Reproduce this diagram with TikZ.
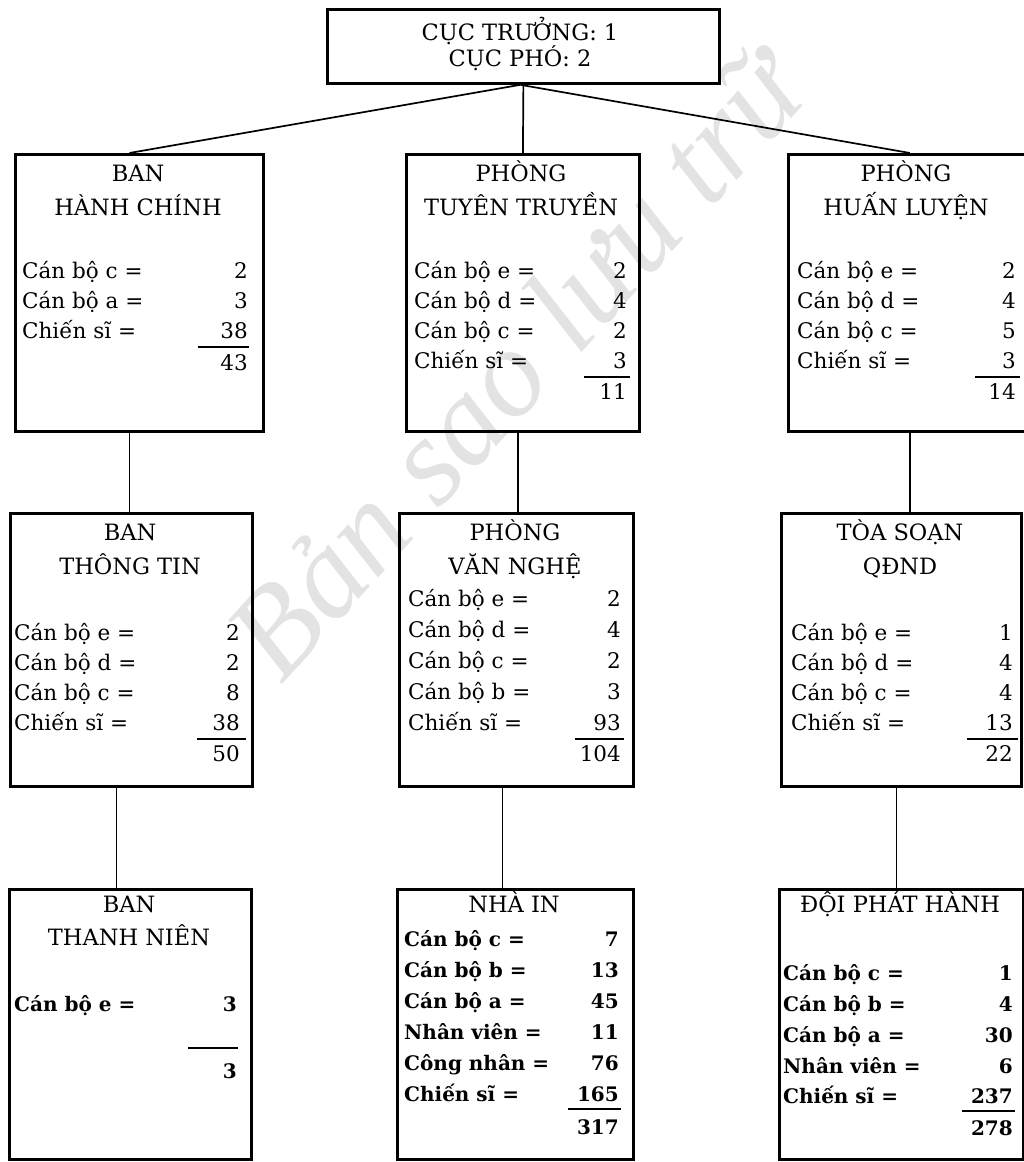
\documentclass[tikz,border=0pt]{standalone}
\usepackage{fontspec}
\setmainfont{DejaVu Serif}
\newfontfamily\wmfam{Liberation Serif}
\newcommand\hdfont{\fontsize{22.5}{26}\selectfont}
\newcommand\rwfont{\fontsize{21.5}{24}\selectfont}
\newcommand\rbfont{\fontsize{20}{24}\selectfont\bfseries}
\newcommand\orgrow[7]{\node[#7,anchor=base west] (#1l) at (#2,#4) {#5};\node[#7,anchor=base east] (#1v) at (#3,#4) {#6};}
\tikzset{
  box/.style={draw, line width=2.8pt, rectangle, anchor=north west, inner sep=0pt},
  hd/.style={font=\hdfont, anchor=base, inner sep=0pt},
  rw/.style={font=\rwfont, inner sep=0pt},
  rb/.style={font=\rbfont, inner sep=0pt},
  conn/.style={line width=1.7pt},
  sumrule/.style={line width=1.9pt}
}
\begin{document}
\begin{tikzpicture}[x=1pt,y=-1pt]
\useasboundingbox (0,0) rectangle (1024,1162);
\clip (0,0) rectangle (1024,1162);
\fill[white] (0,0) rectangle (1024,1162);
% watermark
\node[rotate=48, text=black!11, font=\wmfam\itshape\fontsize{126}{130}\selectfont, inner sep=0pt] (wm) at (515,362) {Bản sao lưu trữ};
% boxes
\node[box, minimum width=392pt, minimum height=74pt] (top) at (326,8) {};
\node[box, minimum width=248pt, minimum height=277pt] (A) at (14,153) {};
\node[box, minimum width=233pt, minimum height=277pt] (B) at (405,153) {};
\node[box, minimum width=243pt, minimum height=277pt] (C) at (787,153) {};
\node[box, minimum width=242pt, minimum height=273pt] (D) at (9,512) {};
\node[box, minimum width=234pt, minimum height=273pt] (E) at (398,512) {};
\node[box, minimum width=240pt, minimum height=273pt] (F) at (780,512) {};
\node[box, minimum width=242pt, minimum height=270pt] (G) at (8,888) {};
\node[box, minimum width=236pt, minimum height=270pt] (H) at (396,888) {};
\node[box, minimum width=244pt, minimum height=270pt] (I) at (778,888) {};
% connectors
\draw[conn] ([xshift=-3pt]top.south) -- ([xshift=-10pt]A.north);
\draw[conn] (top.south) -- (B.north);
\draw[conn] ([xshift=-3pt]top.south) -- (C.north);
\draw[conn] ([xshift=-10pt]A.south) -- ([xshift=-10pt]A.south |- D.north);
\draw[conn] ([xshift=-5pt]B.south) -- ([xshift=-5pt]B.south |- E.north);
\draw[conn] (C.south) -- (C.south |- F.north);
\draw[conn] ([xshift=-15pt]D.south) -- ([xshift=-15pt]D.south |- G.north);
\draw[conn] ([xshift=-14pt]E.south) -- ([xshift=-14pt]E.south |- H.north);
\draw[conn] ([xshift=-5pt]F.south) -- ([xshift=-5pt]F.south |- I.north);
% top text
\node[hd] (t1) at (520,40) {CỤC TRƯỞNG: 1};
\node[hd] (t2) at (520,66) {CỤC PHÓ: 2};
% A
\node[hd] (a1) at (138,181) {BAN};
\node[hd] (a2) at (138,215) {HÀNH CHÍNH};
\orgrow{A1}{22}{248}{278}{Cán bộ c =}{2}{rw}
\orgrow{A2}{22}{248}{308}{Cán bộ a =}{3}{rw}
\orgrow{A3}{22}{248}{338}{Chiến sĩ =}{38}{rw}
\draw[sumrule] (198,347) -- (249,347);
\node[rw,anchor=base east] (A4v) at (248,370) {43};
% B
\node[hd] (b1) at (521,181) {PHÒNG};
\node[hd] (b2) at (521,215) {TUYÊN TRUYỀN};
\orgrow{B1}{414}{627}{278}{Cán bộ e =}{2}{rw}
\orgrow{B2}{414}{627}{308}{Cán bộ d =}{4}{rw}
\orgrow{B3}{414}{627}{338}{Cán bộ c =}{2}{rw}
\orgrow{B4}{414}{627}{368}{Chiến sĩ =}{3}{rw}
\draw[sumrule] (584,377) -- (630,377);
\node[rw,anchor=base east] (B5v) at (627,399) {11};
% C
\node[hd] (c1) at (906,181) {PHÒNG};
\node[hd] (c2) at (906,215) {HUẤN LUYỆN};
\orgrow{C1}{797}{1016}{278}{Cán bộ e =}{2}{rw}
\orgrow{C2}{797}{1016}{308}{Cán bộ d =}{4}{rw}
\orgrow{C3}{797}{1016}{338}{Cán bộ c =}{5}{rw}
\orgrow{C4}{797}{1016}{368}{Chiến sĩ =}{3}{rw}
\draw[sumrule] (975,377) -- (1020,377);
\node[rw,anchor=base east] (C5v) at (1016,399) {14};
% D
\node[hd] (d1) at (130,540) {BAN};
\node[hd] (d2) at (130,574) {THÔNG TIN};
\orgrow{D1}{14}{240}{640}{Cán bộ e =}{2}{rw}
\orgrow{D2}{14}{240}{670}{Cán bộ d =}{2}{rw}
\orgrow{D3}{14}{240}{700}{Cán bộ c =}{8}{rw}
\orgrow{D4}{14}{240}{730}{Chiến sĩ =}{38}{rw}
\draw[sumrule] (197,739) -- (246,739);
\node[rw,anchor=base east] (D5v) at (240,761) {50};
% E
\node[hd] (e1) at (515,540) {PHÒNG};
\node[hd] (e2) at (515,574) {VĂN NGHỆ};
\orgrow{E1}{408}{621}{606}{Cán bộ e =}{2}{rw}
\orgrow{E2}{408}{621}{637}{Cán bộ d =}{4}{rw}
\orgrow{E3}{408}{621}{668}{Cán bộ c =}{2}{rw}
\orgrow{E4}{408}{621}{699}{Cán bộ b =}{3}{rw}
\orgrow{E5}{408}{621}{730}{Chiến sĩ =}{93}{rw}
\draw[sumrule] (575,739) -- (624,739);
\node[rw,anchor=base east] (E6v) at (621,761) {104};
% F
\node[hd] (f1) at (900,540) {TÒA SOẠN};
\node[hd] (f2) at (900,574) {QĐND};
\orgrow{F1}{791}{1013}{640}{Cán bộ e =}{1}{rw}
\orgrow{F2}{791}{1013}{670}{Cán bộ d =}{4}{rw}
\orgrow{F3}{791}{1013}{700}{Cán bộ c =}{4}{rw}
\orgrow{F4}{791}{1013}{730}{Chiến sĩ =}{13}{rw}
\draw[sumrule] (967,739) -- (1018,739);
\node[rw,anchor=base east] (F5v) at (1013,761) {22};
% G
\node[hd] (g1) at (129,912) {BAN};
\node[hd] (g2) at (129,945) {THANH NIÊN};
\orgrow{G1}{14}{237}{1011}{Cán bộ e =}{3}{rb}
\draw[sumrule] (188,1048) -- (238,1048);
\node[rb,anchor=base east] (G2v) at (237,1078) {3};
% H
\node[hd] (h1) at (514,912) {NHÀ IN};
\orgrow{H1}{404}{619}{946}{Cán bộ c =}{7}{rb}
\orgrow{H2}{404}{619}{977}{Cán bộ b =}{13}{rb}
\orgrow{H3}{404}{619}{1008}{Cán bộ a =}{45}{rb}
\orgrow{H4}{404}{619}{1039}{Nhân viên =}{11}{rb}
\orgrow{H5}{404}{619}{1070}{Công nhân =}{76}{rb}
\orgrow{H6}{404}{619}{1101}{Chiến sĩ =}{165}{rb}
\draw[sumrule] (568,1109) -- (621,1109);
\node[rb,anchor=base east] (H7v) at (619,1134) {317};
% I
\node[hd] (i1) at (900,912) {ĐỘI PHÁT HÀNH};
\orgrow{I1}{783}{1013}{980}{Cán bộ c =}{1}{rb}
\orgrow{I2}{783}{1013}{1011}{Cán bộ b =}{4}{rb}
\orgrow{I3}{783}{1013}{1042}{Cán bộ a =}{30}{rb}
\orgrow{I4}{783}{1013}{1073}{Nhân viên =}{6}{rb}
\orgrow{I5}{783}{1013}{1103}{Chiến sĩ =}{237}{rb}
\draw[sumrule] (962,1111) -- (1015,1111);
\node[rb,anchor=base east] (I6v) at (1013,1135) {278};
\end{tikzpicture}
\end{document}
